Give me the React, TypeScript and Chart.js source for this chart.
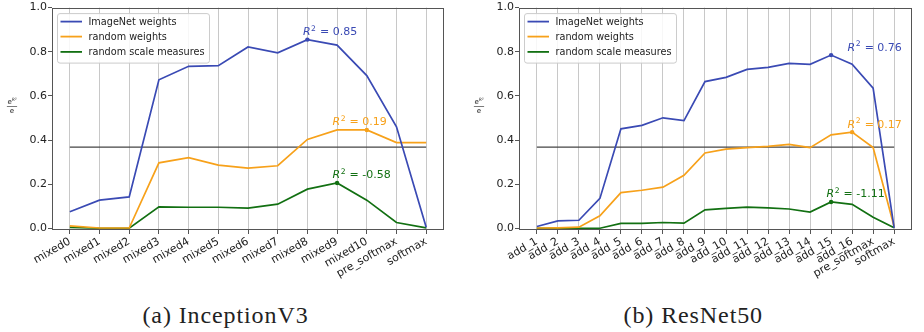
import React, { useEffect, useRef } from "react";
import { Chart, registerables } from "chart.js";
Chart.register(...registerables);

// ---------- data ----------
const inceptionLayers = ["mixed0", "mixed1", "mixed2", "mixed3", "mixed4", "mixed5", "mixed6", "mixed7", "mixed8", "mixed9", "mixed10", "pre_softmax", "softmax"];
const inceptionImageNet = [0.076, 0.128, 0.143, 0.673, 0.734, 0.737, 0.822, 0.795, 0.855, 0.83, 0.692, 0.46, 0.005];
const inceptionRandomWeights = [0.012, 0.002, 0.002, 0.297, 0.321, 0.287, 0.273, 0.284, 0.403, 0.446, 0.446, 0.389, 0.389];
const inceptionRandomScale = [0.005, 0.001, 0.001, 0.098, 0.096, 0.096, 0.092, 0.11, 0.178, 0.206, 0.128, 0.027, 0.003];
const inceptionR2 = ["0.85", "0.19", "-0.58"];

const resnetLayers = ["add_1", "add_2", "add_3", "add_4", "add_5", "add_6", "add_7", "add_8", "add_9", "add_10", "add_11", "add_12", "add_13", "add_14", "add_15", "add_16", "pre_softmax", "softmax"];
const resnetImageNet = [0.009, 0.034, 0.037, 0.136, 0.451, 0.467, 0.501, 0.488, 0.665, 0.684, 0.72, 0.729, 0.747, 0.743, 0.785, 0.744, 0.635, 0.003];
const resnetRandomWeights = [0.002, 0.003, 0.006, 0.057, 0.162, 0.173, 0.187, 0.241, 0.342, 0.359, 0.366, 0.372, 0.381, 0.366, 0.424, 0.436, 0.366, 0.008];
const resnetRandomScale = [0.001, 0.001, 0.001, 0.001, 0.023, 0.023, 0.027, 0.024, 0.084, 0.091, 0.097, 0.093, 0.088, 0.074, 0.12, 0.109, 0.051, 0.003];
const resnetR2 = ["0.76", "0.17", "-1.11"];

const seriesLabels = ["ImageNet weights", "random weights", "random scale measures"];
const referenceLevel = 1 / Math.E;
const yTicks = [0, 0.2, 0.4, 0.6, 0.8, 1.0];

// annotation anchors (category index of marker / of text start)
const inceptionMarkerIdx = [8, 10, 9];
const inceptionTextIdx = [8, 9, 9];
const resnetMarkerIdx = [14, 15, 14];
const resnetTextIdx = [15, 15, 14];

// ---------- style ----------
const COLORS = ["#3a4ab4", "#f7a11a", "#127012"];
const FONT = '"DejaVu Sans", sans-serif';

type Props = {
  layers: string[];
  values: number[][];
  r2: string[];
  markerIdx: number[];
  textIdx: number[];
  width: number;
  yAxisWidth: number;
  rightPad: number;
};

function LayerChart(p: Props) {
  const ref = useRef<HTMLCanvasElement | null>(null);
  useEffect(() => {
    const canvas = ref.current!;
    const n = p.layers.length;
    const margin = 0.05 * (n - 1);

    const overlay = {
      id: "overlay",
      afterDatasetsDraw(chart: any) {
        const ctx = chart.ctx;
        const a = chart.chartArea;
        const xs = chart.scales.x;
        const ys = chart.scales.y;
        ctx.save();
        // annotations
        p.values.forEach((vals, s) => {
          const x = xs.getPixelForValue(p.textIdx[s]) - 4.5;
          const y = ys.getPixelForValue(vals[p.markerIdx[s]]) - 4.5;
          ctx.fillStyle = COLORS[s];
          ctx.textBaseline = "alphabetic";
          ctx.textAlign = "left";
          ctx.font = `italic 11px ${FONT}`;
          ctx.fillText("R", x, y);
          const wR = ctx.measureText("R").width;
          ctx.font = `7.7px ${FONT}`;
          ctx.fillText("2", x + wR + 0.5, y - 4.5);
          const w2 = ctx.measureText("2").width;
          ctx.font = `11px ${FONT}`;
          ctx.fillText(" = " + p.r2[s], x + wR + w2 + 1, y);
        });
        // frame
        ctx.strokeStyle = "#555";
        ctx.lineWidth = 1;
        const l = Math.round(a.left) + 0.5, t = Math.round(a.top) + 0.5;
        const r = Math.round(a.right) - 0.5, b = Math.round(a.bottom) - 0.5;
        ctx.strokeRect(l, t, r - l, b - t);
        // y label (fraction)
        const cx = a.left - 40;
        const cy = 106;
        ctx.fillStyle = "#222";
        ctx.textBaseline = "alphabetic";
        ctx.font = `7px ${FONT}`;
        const we = ctx.measureText("e").width;
        ctx.font = `italic 4.5px ${FONT}`;
        const wr = ctx.measureText("R²").width;
        const numW = we + wr;
        ctx.font = `7px ${FONT}`;
        ctx.fillText("e", cx - numW / 2, cy - 2);
        ctx.font = `italic 4.5px ${FONT}`;
        ctx.fillText("R²", cx - numW / 2 + we, cy - 5);
        ctx.strokeStyle = "#222";
        ctx.lineWidth = 0.6;
        ctx.beginPath();
        ctx.moveTo(cx - numW / 2 - 0.5, cy + 0.5);
        ctx.lineTo(cx + numW / 2 + 0.5, cy + 0.5);
        ctx.stroke();
        ctx.font = `7px ${FONT}`;
        ctx.textAlign = "center";
        ctx.fillText("e", cx, cy + 6.5);
        ctx.restore();
      },
      afterDraw(chart: any) {
        const ctx = chart.ctx;
        const a = chart.chartArea;
        ctx.save();
        ctx.font = `9.7px ${FONT}`;
        const maxW = Math.max(...seriesLabels.map((s) => ctx.measureText(s).width));
        const bx = a.left + 5.5;
        const by = a.top + 6;
        const bw = 31 + maxW + 5;
        const bh = 49.5;
        ctx.fillStyle = "rgba(255,255,255,0.85)";
        ctx.strokeStyle = "#cccccc";
        ctx.lineWidth = 1;
        ctx.beginPath();
        ctx.roundRect(bx, by, bw, bh, 2.5);
        ctx.fill();
        ctx.stroke();
        const rows = [8, 23, 38.3];
        seriesLabels.forEach((lab, i) => {
          const y = by + rows[i];
          ctx.strokeStyle = COLORS[i];
          ctx.lineWidth = 1.8;
          ctx.beginPath();
          ctx.moveTo(bx + 3, y);
          ctx.lineTo(bx + 24.5, y);
          ctx.stroke();
          ctx.fillStyle = "#222";
          ctx.textBaseline = "middle";
          ctx.textAlign = "left";
          ctx.fillText(lab, bx + 31, y + 0.5);
        });
        ctx.restore();
      },
    };

    const datasets: any[] = p.values.map((vals, s) => ({
      label: seriesLabels[s],
      data: vals.map((v, i) => ({ x: i, y: v })),
      borderColor: COLORS[s],
      backgroundColor: COLORS[s],
      borderWidth: 1.7,
      pointRadius: (c: any) => (c.dataIndex === p.markerIdx[s] ? 2.2 : 0),
      pointBorderWidth: 0,
      pointBackgroundColor: COLORS[s],
      tension: 0,
      order: 1,
    }));
    datasets.push({
      label: "1/e",
      data: [
        { x: 0, y: referenceLevel },
        { x: n - 1, y: referenceLevel },
      ],
      borderColor: "#444",
      borderWidth: 1.3,
      pointRadius: 0,
      order: 2,
    });

    const chart = new Chart(canvas, {
      type: "line",
      data: { datasets },
      plugins: [overlay],
      options: {
        responsive: false,
        animation: false,
        events: [],
        layout: { padding: { top: 7, right: p.rightPad, left: 0, bottom: 0 } },
        plugins: { legend: { display: false }, tooltip: { enabled: false } },
        scales: {
          x: {
            type: "linear",
            min: -margin,
            max: n - 1 + margin,
            afterFit: (sc: any) => {
              sc.height = 70;
            },
            afterBuildTicks: (sc: any) => {
              sc.ticks = p.layers.map((_, i) => ({ value: i }));
            },
            ticks: {
              autoSkip: false,
              minRotation: 30,
              maxRotation: 30,
              padding: 1,
              color: "#222",
              font: { family: FONT, size: 11 },
              callback: (v: any) => p.layers[Math.round(Number(v))] ?? "",
            },
            grid: { color: "#c8c8c8", lineWidth: 1, tickColor: "#555", tickLength: 4 },
            border: { display: false },
          },
          y: {
            type: "linear",
            min: -0.007,
            max: 1.0,
            afterFit: (sc: any) => {
              sc.width = p.yAxisWidth;
            },
            afterBuildTicks: (sc: any) => {
              sc.ticks = yTicks.map((v) => ({ value: v }));
            },
            ticks: {
              padding: 1,
              color: "#222",
              font: { family: FONT, size: 11 },
              callback: (v: any) => Number(v).toFixed(1),
            },
            grid: { drawOnChartArea: false, tickColor: "#555", tickLength: 4 },
            border: { display: false },
          },
        },
      },
    });
    return () => chart.destroy();
  }, []);
  return <canvas ref={ref} width={p.width} height={300} style={{ display: "block", width: p.width, height: 300 }} />;
}

const captionStyle: React.CSSProperties = {
  position: "absolute",
  top: 303,
  height: 24,
  lineHeight: "24px",
  fontFamily: '"Liberation Serif", serif',
  fontSize: 24,
  letterSpacing: 0.9,
  color: "#222",
  whiteSpace: "nowrap",
  transform: "translateX(-50%)",
};

export default function App() {
  useEffect(() => {
    document.body.style.margin = "0";
  }, []);
  return (
    <div style={{ position: "relative", width: 924, height: 332, background: "#fff", overflow: "hidden" }}>
      <div style={{ position: "absolute", left: 0, top: 0 }}>
        <LayerChart
          layers={inceptionLayers}
          values={[inceptionImageNet, inceptionRandomWeights, inceptionRandomScale]}
          r2={inceptionR2}
          markerIdx={inceptionMarkerIdx}
          textIdx={inceptionTextIdx}
          width={460}
          yAxisWidth={52}
          rightPad={16}
        />
      </div>
      <div style={{ position: "absolute", left: 460, top: 0 }}>
        <LayerChart
          layers={resnetLayers}
          values={[resnetImageNet, resnetRandomWeights, resnetRandomScale]}
          r2={resnetR2}
          markerIdx={resnetMarkerIdx}
          textIdx={resnetTextIdx}
          width={464}
          yAxisWidth={59}
          rightPad={12}
        />
      </div>
      <div style={{ ...captionStyle, left: 225.5 }}>(a) InceptionV3</div>
      <div style={{ ...captionStyle, left: 693.3 }}>(b) ResNet50</div>
    </div>
  );
}
